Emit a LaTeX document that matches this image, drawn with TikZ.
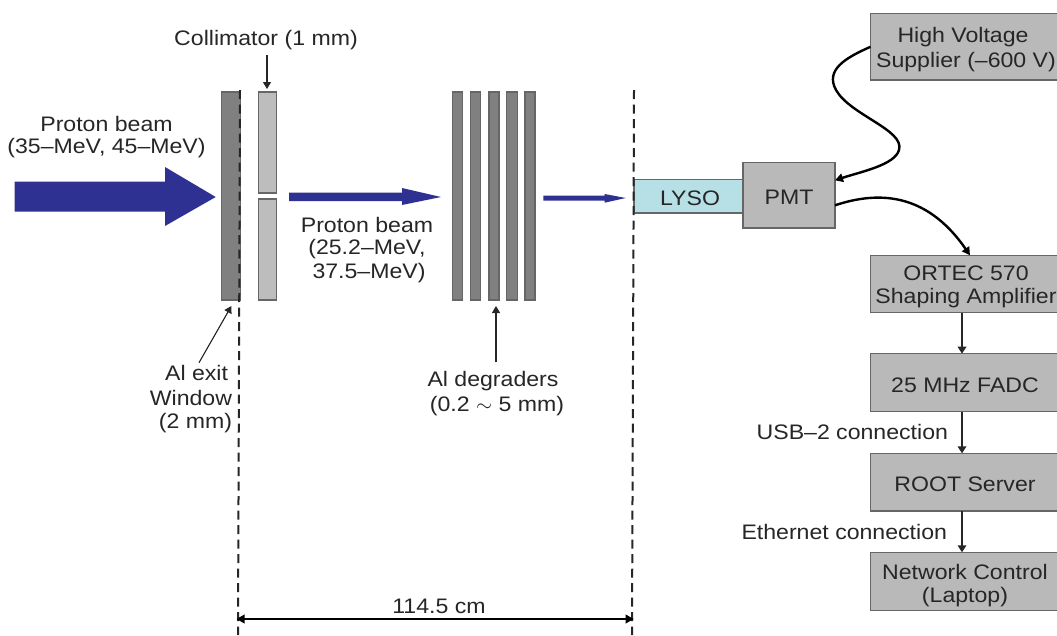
\documentclass[tikz,border=0pt]{standalone}
\usepackage{fontspec}
\setmainfont[FakeStretch=1.1]{Liberation Sans}
\usetikzlibrary{arrows.meta}
\definecolor{boxgray}{HTML}{B9B9B9}
\definecolor{boxedge}{HTML}{666666}
\definecolor{darkplate}{HTML}{808080}
\definecolor{lightplate}{HTML}{BDBDBD}
\definecolor{lysoblue}{HTML}{B7DFE6}
\definecolor{beamblue}{HTML}{2E3192}
\definecolor{inkgray}{HTML}{262626}
\newcommand{\labelfont}{\fontsize{21}{24.5}\selectfont}
\tikzset{
  txt/.style={inner sep=0pt,outer sep=0pt,align=center,text=inkgray,font=\labelfont},
  plain/.style={draw=boxedge,line width=1.2pt,inner sep=0pt,outer sep=0pt},
  graybox/.style={plain,fill=boxgray,text=inkgray,align=center,font=\labelfont},
  darkbar/.style={plain,fill=darkplate,minimum height=208pt},
  lightbar/.style={plain,fill=lightplate,minimum width=18pt},
  thinarrow/.style={draw=inkgray,line width=1.1pt,-{Triangle[length=7pt,width=8pt]}},
  wire/.style={draw=black,line width=2.4pt,-{Triangle[length=8pt,width=8.5pt]}},
  feed/.style={draw=black!85,line width=2.8pt,-{Triangle[length=7pt,width=8.5pt]}},
  beam/.style={fill=beamblue,draw=none},
  limit/.style={draw=black!85,line width=2pt,dash pattern=on 9pt off 5.5pt},
  dim/.style={draw=black,line width=2pt,{Triangle[length=8pt,width=8.5pt]}-{Triangle[length=8pt,width=8.5pt]}},
}
\begin{document}
\begin{tikzpicture}[x=1pt,y=-1pt]
\clip (0,0) rectangle (1057,635);
\fill[white] (0,0) rectangle (1057,635);
% plates
\node[darkbar,minimum width=19.5pt] (win) at (231,196) {};
\node[lightbar,minimum height=101pt] (colA) at (267.5,142.5) {};
\node[lightbar,minimum height=101pt] (colB) at (267.5,249.5) {};
\node[darkbar,minimum width=10.5pt] (degA) at (457.5,196) {};
\node[darkbar,minimum width=10pt] (degB) at (475.3,196) {};
\node[darkbar,minimum width=10pt] (degC) at (494,196) {};
\node[darkbar,minimum width=10.5pt] (degD) at (512,196) {};
\node[darkbar,minimum width=10pt] (degE) at (530,196) {};
% beams
\fill[beam] (14.5,181.7) -- (165,181.7) -- (165,167) -- (215.7,197) -- (165,226) -- (165,211.7) -- (14.5,211.7) -- cycle;
\fill[beam] (289,192.7) -- (402,192.7) -- (402,188) -- (441,197) -- (402,205) -- (402,201) -- (289,201) -- cycle;
\fill[beam] (543.4,195.7) -- (604.6,195.7) -- (604.6,194) -- (625.8,198) -- (604.6,202.7) -- (604.6,200.5) -- (543.4,200.5) -- cycle;
% detector
\node[plain,fill=lysoblue,minimum width=109pt,minimum height=33.7pt] (lyso) at (688.5,196.2) {};
\node[txt] (lysotext) at (690,198) {LYSO};
\node[graybox,minimum width=92pt,minimum height=65.3pt] (pmt) at (789,195.3) {};
\node[txt] (pmttext) at (789,197) {PMT};
% right column
\node[graybox,minimum width=191pt,minimum height=66.3pt] (hv) at (966,46.8) {};
\node[txt] (hvA) at (963,37) {High Voltage};
\node[txt] (hvB) at (966,62) {Supplier (–600 V)};
\node[graybox,minimum width=191pt,minimum height=57.4pt] (ortec) at (966,284) {};
\node[txt] (ortecA) at (966,273) {ORTEC 570};
\node[txt] (ortecB) at (966,298) {Shaping Amplifier};
\node[graybox,minimum width=191pt,minimum height=58pt] (fadc) at (966,382.7) {};
\node[txt] (fadctext) at (965,385) {25 MHz FADC};
\node[graybox,minimum width=191pt,minimum height=57.7pt] (root) at (966,482.2) {};
\node[txt] (roottext) at (965,484) {ROOT Server};
\node[graybox,minimum width=191pt,minimum height=58.4pt] (net) at (966,581.5) {};
\node[txt] (netA) at (965,572) {Network Control};
\node[txt] (netB) at (965,597) {(Laptop)};
% free ends
\coordinate (dlT) at (240,90);
\coordinate (dlB) at (238,635);
\coordinate (drT) at (634,90);
\coordinate (drB) at (632,635);
\coordinate (dimL) at (236.5,619);
\coordinate (dimR) at (633.7,619);
\coordinate (colS) at (267,55);
\coordinate (winS) at (199,362.7);
\coordinate (winE) at (231.4,306);
\coordinate (degS) at (496,362);
\coordinate (degN) at (496,306);
% dashed limits and dimension
\draw[limit] (dlT) -- (dlB);
\draw[limit] (drT) -- (drB);
\draw[dim] (dimL) -- (dimR);
% thin pointers
\draw[thinarrow] (colS) -- ([xshift=-.5pt,yshift=3pt]colA.north);
\draw[thinarrow] (winS) -- (winE);
\draw[thinarrow] (degS) -- (degN);
% wires
\draw[wire] (hv.west) .. controls (845,58) and (825,70) .. (836,90) .. controls (850,115) and (905,130) .. (899,150) .. controls (895,165) and (860,172) .. ([yshift=15pt]pmt.east);
\draw[wire] ([yshift=-10pt]pmt.east) .. controls (875,192) and (925,190) .. ([xshift=4pt]ortec.north);
\draw[feed] ([xshift=-4pt]ortec.south) -- ([xshift=-4pt]fadc.north);
\draw[feed] ([xshift=-4pt]fadc.south) -- ([xshift=-4pt]root.north);
\draw[feed] ([xshift=-4pt]root.south) -- ([xshift=-4pt]net.north);
% labels
\node[txt] (tcol) at (266,40) {Collimator (1 mm)};
\node[txt] (tbeamAa) at (106.5,124) {Proton beam};
\node[txt] (tbeamAb) at (106.5,148) {(35–MeV, 45–MeV)};
\node[txt] (tbeamBa) at (367,225) {Proton beam};
\node[txt] (tbeamBb) at (367,249) {(25.2–MeV,};
\node[txt] (tbeamBc) at (369,273) {37.5–MeV)};
\node[txt,anchor=east] (twinA) at (228,373) {Al exit};
\node[txt,anchor=east] (twinB) at (232,398) {Window};
\node[txt,anchor=east] (twinC) at (232,423) {(2 mm)};
\node[txt] (tdegA) at (493,381) {Al degraders};
\node[txt] (tdegB) at (497,406) {(0.2 $\sim$ 5 mm)};
\node[txt] (tdim) at (439,606) {114.5 cm};
\node[txt,anchor=east] (tusb) at (948,432) {USB–2 connection};
\node[txt,anchor=east] (teth) at (947,532) {Ethernet connection};
\end{tikzpicture}
\end{document}
